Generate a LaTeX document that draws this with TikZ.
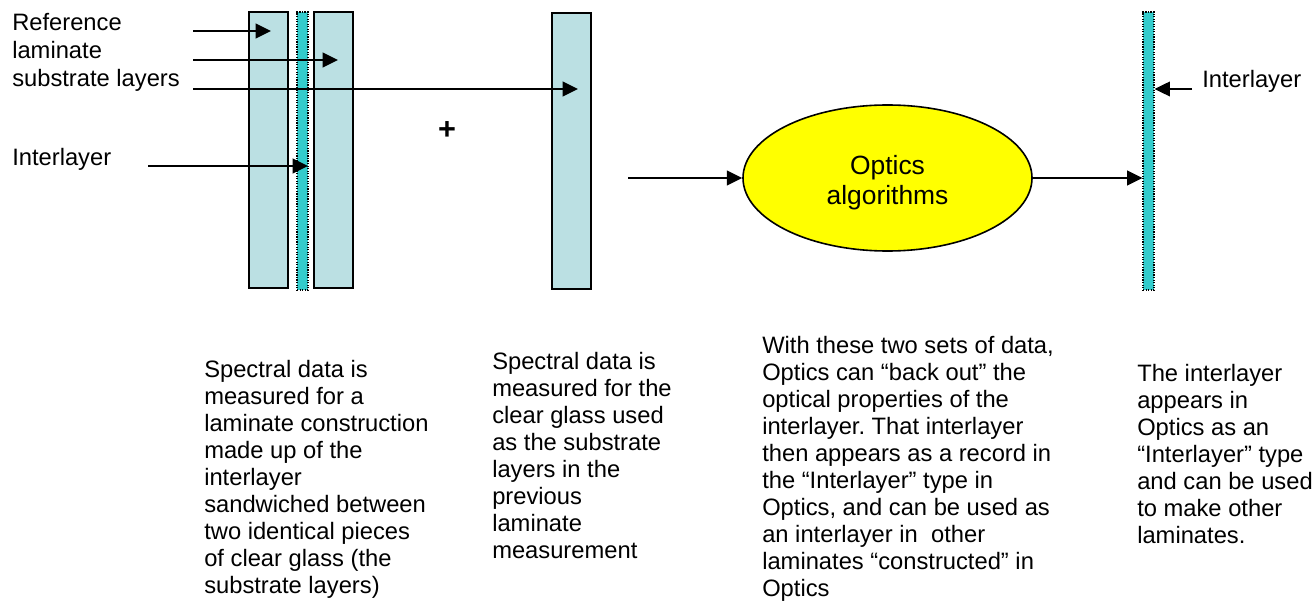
\documentclass[tikz,border=0pt]{standalone}
\usepackage{fontspec}
\setmainfont{Liberation Sans}
\usetikzlibrary{arrows.meta,shapes.geometric}
\definecolor{glassfill}{RGB}{187,224,227}
\definecolor{ilfill}{RGB}{51,204,204}
\definecolor{ovalfill}{RGB}{255,255,0}
\frenchspacing
\tikzset{
  glass/.style={draw=black, line width=1.8pt, fill=glassfill, inner sep=0pt, minimum width=39*0.75pt, minimum height=276*0.75pt},
  ilayer/.style={draw=black, densely dotted, line width=0.9pt, fill=ilfill, inner sep=0pt, minimum width=11*0.75pt, minimum height=278*0.75pt},
  conn/.style={line width=1.4pt, -{Triangle[length=11.5pt, width=11pt]}},
  txt/.style={inner sep=0pt, anchor=north west, align=left, font=\fontsize{17.8pt}{20.25pt}\selectfont},
  lbl/.style={inner sep=0pt, anchor=north west, align=left, font=\fontsize{17.8pt}{21.2pt}\selectfont},
  oval/.style={ellipse, draw=black, line width=1.2pt, fill=ovalfill, minimum width=289*0.75pt, minimum height=146*0.75pt, inner sep=0pt, align=center, font=\fontsize{19.8pt}{22.5pt}\selectfont}
}
\begin{document}
\begin{tikzpicture}[x=0.75pt, y=-0.75pt]
\useasboundingbox (0,0) rectangle (1313,602);
% glass panes and interlayers
\node[glass] (g1) at (268.5,150) {};
\node[ilayer] (i1) at (302.5,151) {};
\node[glass] (g2) at (333.5,150) {};
\node[glass] (g3) at (571.5,151) {};
\node[ilayer] (i2) at (1148.5,151) {};
% left labels
\node[lbl] (reflbl) at (12,13) {Reference\\laminate\\substrate layers};
\node[lbl] (illbl) at (12,148) {Interlayer};
\node[inner sep=0pt, font=\fontsize{23pt}{25pt}\selectfont\bfseries] (plus) at (447,131) {+};
% arrow coordinates
\coordinate (s1) at (193,31);  \coordinate (t1) at (271,31);
\coordinate (s2) at (193,60);  \coordinate (t2) at (338,60);
\coordinate (s3) at (193,89);  \coordinate (t3) at (578,89);
\coordinate (s4) at (148,166); \coordinate (t4) at (308,166);
\draw[conn] (s1) -- (t1);
\draw[conn] (s2) -- (t2);
\draw[conn] (s3) -- (t3);
\draw[conn] (s4) -- (t4);
% optics oval
\node[oval] (opt) at (887.5,178) {\rule{0pt}{22pt}Optics\\algorithms};
\coordinate (s5) at (628,178);
\draw[conn] (s5) -- (opt.west);
\draw[conn] (opt.east) -- (opt.east -| i2.west);
% right label
\node[lbl] (illbl2) at (1202,70) {Interlayer};
\coordinate (s6) at (1192,89);
\draw[conn] (s6) -- (s6 -| i2.east);
% descriptions
\node[txt] (d1) at (204,360) {Spectral data is\\measured for a\\laminate construction\\made up of the\\interlayer\\sandwiched between\\two identical pieces\\of clear glass (the\\substrate layers)};
\node[txt] (d2) at (492,352) {Spectral data is\\measured for the\\clear glass used\\as the substrate\\layers in the\\previous\\laminate\\measurement};
\node[txt] (d3) at (762,336) {With these two sets of data,\\Optics can “back out” the\\optical properties of the\\interlayer. That interlayer\\then appears as a record in\\the “Interlayer” type in\\Optics, and can be used as\\an interlayer in\ \ other\\laminates “constructed” in\\Optics};
\node[txt] (d4) at (1137,364) {The interlayer\\appears in\\Optics as an\\“Interlayer” type\\and can be used\\to make other\\laminates.};
\end{tikzpicture}
\end{document}
